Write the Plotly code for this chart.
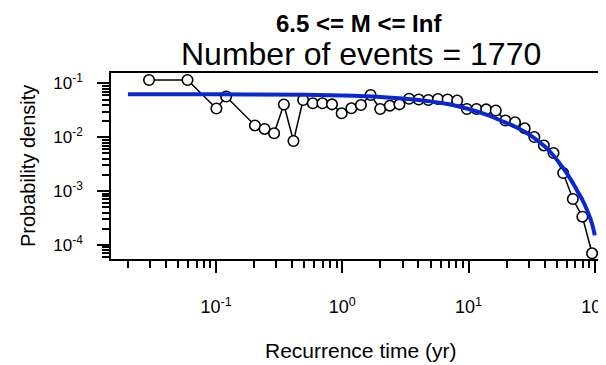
import plotly.graph_objects as go

# Binned recurrence times (yr) and observed probability density
recurrence_time = [0.0294, 0.0593, 0.1005, 0.120, 0.203, 0.242, 0.288, 0.344, 0.410, 0.489,
                   0.583, 0.695, 0.828, 0.988, 1.178, 1.404, 1.674, 1.995, 2.378, 2.834,
                   3.38, 4.03, 4.80, 5.72, 6.82, 8.13, 9.70, 11.56, 13.78, 16.43,
                   19.58, 23.34, 27.82, 33.2, 39.5, 47.1, 56.2, 67.0, 79.8, 95.2]
density = [0.116, 0.116, 0.0343, 0.0573, 0.0166, 0.0143, 0.0119, 0.0407, 0.00853, 0.0493,
           0.0428, 0.0428, 0.0410, 0.0279, 0.0346, 0.0398, 0.0611, 0.0336, 0.0387, 0.0410,
           0.0521, 0.0504, 0.0493, 0.0515, 0.0504, 0.0483, 0.0336, 0.0336, 0.0331, 0.0315,
           0.0205, 0.0190, 0.0147, 0.0101, 0.00705, 0.00511, 0.00217, 0.000713, 0.000334, 0.0000698]

# Fitted density curve
fit_time = [0.02, 0.1, 0.5, 1, 2, 3, 5, 7, 10, 14, 18, 23, 28, 33, 40, 47, 56, 65, 72, 80, 87, 95, 100]
fit_density = [0.063, 0.063, 0.0615, 0.0595, 0.056, 0.0525, 0.0465, 0.041, 0.0335, 0.026, 0.0205,
               0.016, 0.0125, 0.0098, 0.0068, 0.0046, 0.0027, 0.0016, 0.00105, 0.00068, 0.00044,
               0.00025, 0.00015]

x_major = [0.1, 1, 10, 100]
x_major_text = ["10<sup>-1</sup>", "10<sup>0</sup>", "10<sup>1</sup>", "10<sup>2</sup>"]
x_minor = [m * d for d in (0.01, 0.1, 1, 10) for m in range(2, 10)]
y_major = [1e-4, 1e-3, 1e-2, 1e-1]
y_major_text = ["10<sup>-4</sup>", "10<sup>-3</sup>", "10<sup>-2</sup>", "10<sup>-1</sup>"]
y_minor = [m * d for d in (1e-5, 1e-4, 1e-3, 1e-2, 1e-1) for m in range(2, 10)]

title_main = "6.5 &lt;= M &lt;= Inf"
title_sub = "Number of events = 1770"
x_title = "Recurrence time (yr)"
y_title = "Probability density"

FONT = "Liberation Sans, Arial, Helvetica, sans-serif"

fig = go.Figure()
fig.add_trace(go.Scatter(
    x=recurrence_time, y=density, mode="lines+markers",
    line=dict(color="black", width=1.5),
    marker=dict(symbol="circle", size=10.5, color="white", line=dict(color="black", width=1.6)),
    showlegend=False, cliponaxis=False,
))
fig.add_trace(go.Scatter(
    x=fit_time, y=fit_density, mode="lines",
    line=dict(color="rgb(10,40,210)", width=4, shape="spline"),
    showlegend=False,
))

OFF = 8  # page body margin
W, H = 606 - OFF, 365 - OFF
L, T, B = 111 - OFF, 73 - OFF, 259 - OFF
plot_h = B - T
plot_w = W - L


def px_x(px):
    return (px - OFF - L) / plot_w


def px_y(py):
    return (B - (py - OFF)) / plot_h


fig.update_layout(
    width=W, height=H,
    margin=dict(l=L, r=0, t=T, b=H - B, autoexpand=False),
    paper_bgcolor="white", plot_bgcolor="white",
    font=dict(family=FONT, color="black"),
    xaxis=dict(
        type="log", range=[-1.833, 2.089],
        showline=True, linecolor="black", linewidth=1.5, mirror=True,
        showgrid=False, zeroline=False,
        tickmode="array", tickvals=x_major, ticktext=x_major_text,
        ticks="outside", ticklen=12, tickwidth=1.5, tickcolor="black",
        tickfont=dict(size=18, family=FONT),
        ticklabelstandoff=19, ticklabeloverflow="allow",
        minor=dict(tickmode="array", tickvals=x_minor, ticks="outside", ticklen=7,
                   tickwidth=1.5, tickcolor="black", showgrid=False),
    ),
    yaxis=dict(
        type="log", range=[-4.262, -0.805],
        showline=True, linecolor="black", linewidth=1.5, mirror=False,
        showgrid=False, zeroline=False,
        tickmode="array", tickvals=y_major, ticktext=y_major_text,
        ticks="outside", ticklen=12, tickwidth=1.5, tickcolor="black",
        tickfont=dict(size=17, family=FONT),
        ticklabelstandoff=11,
        minor=dict(tickmode="array", tickvals=y_minor, ticks="outside", ticklen=7,
                   tickwidth=1.5, tickcolor="black", showgrid=False),
    ),
    annotations=[
        dict(text="<b>" + title_main + "</b>", xref="paper", yref="paper",
             x=px_x(359), y=px_y(23), xanchor="center", yanchor="middle",
             showarrow=False, font=dict(size=24, family=FONT)),
        dict(text=title_sub, xref="paper", yref="paper",
             x=px_x(361), y=px_y(54), xanchor="center", yanchor="middle",
             showarrow=False, font=dict(size=32, family=FONT)),
        dict(text=x_title, xref="paper", yref="paper",
             x=px_x(360), y=px_y(350), xanchor="center", yanchor="middle",
             showarrow=False, font=dict(size=21, family=FONT)),
        dict(text=y_title, xref="paper", yref="paper", textangle=-90,
             x=px_x(28), y=0.5, xanchor="center", yanchor="middle",
             showarrow=False, font=dict(size=20, family=FONT)),
    ],
)

fig.write_html("out.html")
